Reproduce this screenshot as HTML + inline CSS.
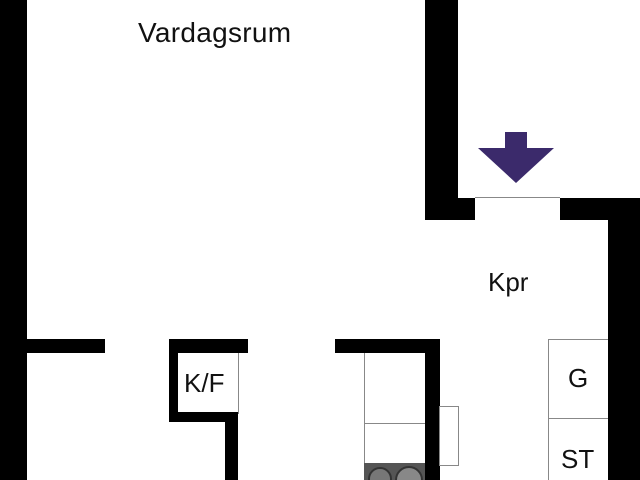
<!DOCTYPE html>
<html><head><style>
html,body{margin:0;width:640px;height:480px;overflow:hidden}
body{background:#fff;position:relative;font-family:"Liberation Sans",sans-serif}
#w{position:absolute;left:0;top:0;width:640px;height:480px;overflow:hidden}
.b{position:absolute;background:#000}
.g{position:absolute;border:1px solid #888;box-sizing:border-box;background:#fff}
.t{position:absolute;font-size:26px;color:#111;line-height:1}
</style></head><body><div id="w">
<div class="b" style="left:0;top:0;width:27px;height:480px"></div>
<div class="b" style="left:27px;top:339px;width:78px;height:14px"></div>
<div class="g" style="left:176px;top:350px;width:63px;height:64px"></div>
<div class="b" style="left:169px;top:339px;width:79px;height:14px"></div>
<div class="b" style="left:169px;top:339px;width:9px;height:83px"></div>
<div class="b" style="left:169px;top:412px;width:69px;height:10px"></div>
<div class="b" style="left:225px;top:412px;width:13px;height:68px"></div>
<div class="g" style="left:364px;top:350px;width:63px;height:74px"></div>
<div class="g" style="left:364px;top:423px;width:63px;height:41px"></div>
<div style="position:absolute;left:364px;top:463px;width:62px;height:17px;background:#555"></div>
<div style="position:absolute;left:368px;top:467px;width:20px;height:20px;border-radius:50%;background:#777;border:2px solid #333"></div>
<div style="position:absolute;left:395px;top:466px;width:24px;height:24px;border-radius:50%;background:#888;border:2px solid #333"></div>
<div class="b" style="left:335px;top:339px;width:105px;height:14px"></div>
<div class="b" style="left:425px;top:339px;width:15px;height:141px"></div>
<div class="g" style="left:439px;top:406px;width:20px;height:60px"></div>
<div class="g" style="left:548px;top:339px;width:62px;height:80px"></div>
<div class="g" style="left:548px;top:418px;width:62px;height:70px"></div>
<div class="b" style="left:608px;top:198px;width:32px;height:282px"></div>
<div class="b" style="left:425px;top:0;width:33px;height:220px"></div>
<div class="b" style="left:425px;top:198px;width:50px;height:22px"></div>
<div style="position:absolute;left:475px;top:197px;width:85px;height:1px;background:#888"></div>
<div class="b" style="left:560px;top:198px;width:80px;height:22px"></div>
<svg style="position:absolute;left:0;top:0" width="640" height="480"><polygon points="505,132 527,132 527,148 554,148 516,183 478,148 505,148" fill="#3b2a6b"/></svg>
<div class="t" style="left:138px;top:19px;font-size:28px;letter-spacing:0.3px">Vardagsrum</div>
<div class="t" style="left:488px;top:269px">Kpr</div>
<div class="t" style="left:184px;top:370px">K/F</div>
<div class="t" style="left:568px;top:365px">G</div>
<div class="t" style="left:561px;top:446px">ST</div>
</div></body></html>
